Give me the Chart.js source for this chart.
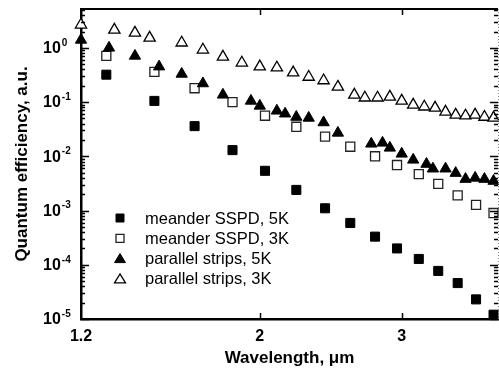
<!DOCTYPE html>
<html>
<head>
<meta charset="utf-8">
<script src="https://cdn.jsdelivr.net/npm/chart.js@4.4.0/dist/chart.umd.min.js"></script>
<style>
  html, body { margin: 0; padding: 0; background: #fff; overflow: hidden; }
  #wrap { width: 499px; height: 372px; }
</style>
</head>
<body>
<div id="wrap"><canvas id="chart" width="499" height="372"></canvas></div>
<script>
// wavelength (um) and quantum efficiency (a.u.)
const wlMeander = [1.29, 1.48, 1.66, 1.85, 2.03, 2.22, 2.41, 2.59, 2.78, 2.96, 3.15, 3.33, 3.52, 3.71, 3.90];
const qeMeander5K = [0.32, 0.105, 0.036, 0.013, 0.0054, 0.0024, 0.0011, 0.00059, 0.00033, 0.0002, 0.000128, 0.000077, 0.000046, 0.000023, 0.000012];
const qeMeander3K = [0.71, 0.36, 0.18, 0.10, 0.056, 0.035, 0.023, 0.015, 0.010, 0.0069, 0.0047, 0.0031, 0.0019, 0.00127, 0.0009];

const wlStrips5K = [1.2, 1.3, 1.4, 1.5, 1.6, 1.7, 1.8, 1.95, 2.0, 2.1, 2.15, 2.22, 2.3, 2.4, 2.5, 2.75, 2.84, 2.9, 3.0, 3.1, 3.22, 3.28, 3.4, 3.5, 3.6, 3.7, 3.8, 3.9];
const qeStrips5K = [1.4, 1.0, 0.71, 0.45, 0.33, 0.22, 0.136, 0.105, 0.085, 0.069, 0.061, 0.053, 0.051, 0.042, 0.027, 0.017, 0.0177, 0.0143, 0.0111, 0.0086, 0.0072, 0.0059, 0.0059, 0.0049, 0.0038, 0.0040, 0.0038, 0.0035];

const wlStrips3K = [1.2, 1.32, 1.4, 1.46, 1.6, 1.7, 1.8, 1.9, 2.0, 2.1, 2.2, 2.3, 2.4, 2.5, 2.62, 2.7, 2.8, 2.9, 3.0, 3.1, 3.2, 3.3, 3.4, 3.5, 3.6, 3.7, 3.8, 3.9];
const qeStrips3K = [2.66, 2.15, 1.89, 1.53, 1.24, 0.92, 0.68, 0.53, 0.45, 0.43, 0.35, 0.29, 0.25, 0.19, 0.136, 0.12, 0.12, 0.125, 0.105, 0.089, 0.082, 0.078, 0.066, 0.058, 0.056, 0.058, 0.053, 0.051];

const seriesLabels = ['meander SSPD, 5K', 'meander SSPD, 3K', 'parallel strips, 5K', 'parallel strips, 3K'];
const xTickValues = [1.2, 2, 3];
const yDecades = [-5, -4, -3, -2, -1, 0];

const pts = (xs, ys) => xs.map((x, i) => ({ x: x, y: ys[i] }));

const FONT = 'Arial, "Liberation Sans", Helvetica, sans-serif';

// inward ticks on all four sides + top/right frame
const frameTicks = {
  id: 'frameTicks',
  afterDraw(chart) {
    const { ctx, chartArea: a } = chart;
    const xs = chart.scales.x, ys = chart.scales.y;
    ctx.save();
    ctx.strokeStyle = '#000';
    ctx.lineWidth = 2;
    ctx.beginPath();
    ctx.moveTo(a.left - 1, a.top);
    ctx.lineTo(a.right, a.top);
    ctx.stroke();
    ctx.lineWidth = 1;
    ctx.strokeStyle = '#888';
    ctx.setLineDash([1, 2]);
    ctx.beginPath();
    ctx.moveTo(a.right + 0.5, a.top);
    ctx.lineTo(a.right + 0.5, a.bottom);
    ctx.stroke();
    ctx.setLineDash([]);

    ctx.strokeStyle = '#000';
    ctx.lineWidth = 1.5;
    yDecades.forEach(e => {
      for (let m = 1; m < 10; m++) {
        const v = m * Math.pow(10, e);
        if (v > ys.max) break;
        const y = Math.round(ys.getPixelForValue(v)) + 0.5;
        const len = m === 1 ? 8 : 4;
        ctx.beginPath();
        ctx.moveTo(a.left, y); ctx.lineTo(a.left + len, y);
        ctx.moveTo(a.right, y); ctx.lineTo(a.right - len, y);
        ctx.stroke();
      }
    });
    xTickValues.slice(1).forEach(v => {
      const x = Math.round(xs.getPixelForValue(v)) + 0.5;
      ctx.beginPath();
      ctx.moveTo(x, a.bottom); ctx.lineTo(x, a.bottom - 6);
      ctx.moveTo(x, a.top); ctx.lineTo(x, a.top + 6);
      ctx.stroke();
    });

    // y tick labels as 10 with superscript exponent
    ctx.fillStyle = '#000';
    ctx.textBaseline = 'middle';
    ctx.textAlign = 'left';
    yDecades.forEach(e => {
      const y = ys.getPixelForValue(Math.pow(10, e));
      ctx.font = 'bold 16px ' + FONT;
      ctx.fillText('10', 43, y + 1);
      const w = ctx.measureText('10').width;
      ctx.font = 'bold 10px ' + FONT;
      ctx.fillText(String(e), 43 + w + 1, y - 5);
    });

    // legend inside the plot
    chart.data.datasets.forEach((ds, i) => {
      const cx = a.left + 39, cy = a.top + 209 + i * 20.3;
      ctx.fillStyle = ds.backgroundColor;
      ctx.strokeStyle = ds.borderColor;
      ctx.lineWidth = ds.borderWidth;
      ctx.beginPath();
      if (ds.pointStyle === 'rect') {
        ctx.rect(cx - 4, cy - 4, 8, 8);
      } else {
        ctx.moveTo(cx, cy - 5);
        ctx.lineTo(cx + 5.5, cy + 4);
        ctx.lineTo(cx - 5.5, cy + 4);
        ctx.closePath();
      }
      ctx.fill();
      ctx.stroke();
      ctx.fillStyle = '#000';
      ctx.font = '16.5px ' + FONT;
      ctx.textBaseline = 'middle';
      ctx.fillText(ds.label, a.left + 64, cy + 1);
    });
    ctx.restore();
  }
};

new Chart(document.getElementById('chart'), {
  type: 'scatter',
  data: {
    datasets: [
      { label: seriesLabels[0], data: pts(wlMeander, qeMeander5K), pointStyle: 'rect', pointRadius: 6.4,
        backgroundColor: '#000', borderColor: '#000', borderWidth: 1, order: 3 },
      { label: seriesLabels[1], data: pts(wlMeander, qeMeander3K), pointStyle: 'rect', pointRadius: 6.4,
        backgroundColor: '#fff', borderColor: '#222', borderWidth: 1.3, order: 2 },
      { label: seriesLabels[2], data: pts(wlStrips5K, qeStrips5K), pointStyle: 'triangle', pointRadius: 6.5,
        backgroundColor: '#000', borderColor: '#000', borderWidth: 1, order: 1 },
      { label: seriesLabels[3], data: pts(wlStrips3K, qeStrips3K), pointStyle: 'triangle', pointRadius: 6.5,
        backgroundColor: '#fff', borderColor: '#000', borderWidth: 1.3, order: 0 }
    ]
  },
  options: {
    responsive: false,
    animation: false,
    devicePixelRatio: 1,
    clip: false,
    layout: { autoPadding: false, padding: { top: 9, right: 1, left: 0, bottom: 0 } },
    plugins: { legend: { display: false }, tooltip: { enabled: false } },
    scales: {
      x: {
        type: 'logarithmic',
        min: 1.2,
        max: 3.95,
        afterBuildTicks: s => { s.ticks = xTickValues.map(v => ({ value: v })); },
        afterFit: s => { s.height = 53; s.paddingLeft = 0; s.paddingRight = 0; },
        grid: { display: false, drawTicks: false },
        border: { display: true, color: '#000', width: 2.5 },
        ticks: {
          color: '#000', padding: 8, maxRotation: 0, autoSkip: false,
          font: { family: FONT, size: 16, weight: 'bold' },
          callback: v => String(v)
        },
        title: {
          display: true, text: 'Wavelength, \u03bcm', color: '#000',
          font: { family: FONT, size: 17, weight: 'bold' },
          padding: { top: 0, bottom: 3 }
        }
      },
      y: {
        type: 'logarithmic',
        min: 1e-5,
        max: 5.2,
        afterBuildTicks: s => { s.ticks = yDecades.map(e => ({ value: Math.pow(10, e) })); },
        afterFit: s => { s.width = 81; s.paddingTop = 0; s.paddingBottom = 0; },
        grid: { display: false, drawTicks: false },
        border: { display: true, color: '#000', width: 2.5 },
        ticks: { display: false },
        title: {
          display: true, text: 'Quantum efficiency, a.u.', color: '#000',
          font: { family: FONT, size: 17, weight: 'bold' },
          padding: { top: 12, bottom: 0 }
        }
      }
    }
  },
  plugins: [frameTicks]
});
</script>
</body>
</html>
